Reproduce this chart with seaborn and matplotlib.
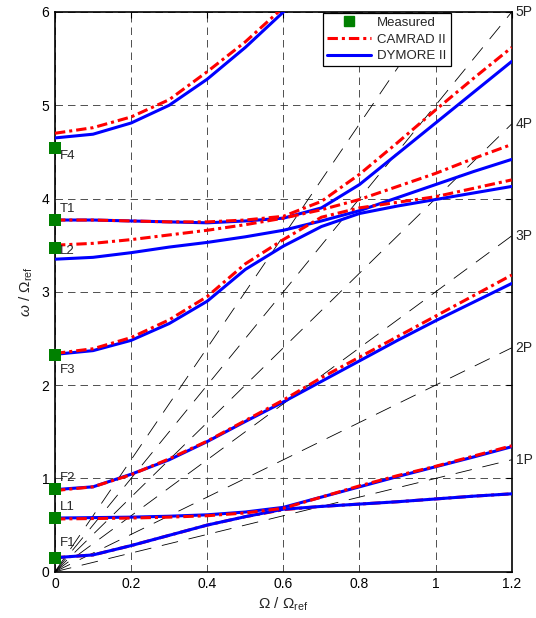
import matplotlib
matplotlib.use("Agg")
import matplotlib.pyplot as plt
from matplotlib.lines import Line2D
import numpy as np
import pandas as pd
import seaborn as sns

# Rotor speed samples (non-dimensional)
omega = [0.0, 0.1, 0.2, 0.3, 0.4, 0.5, 0.6, 0.7, 0.8, 0.9, 1.0, 1.1, 1.2]

# DYMORE II natural frequencies
dym_f1 = [0.15, 0.18, 0.28, 0.39, 0.50, 0.59, 0.67, 0.70, 0.725, 0.75, 0.78, 0.81, 0.835]
dym_l1 = [0.575, 0.58, 0.585, 0.595, 0.61, 0.64, 0.69, 0.80, 0.91, 1.02, 1.125, 1.23, 1.34]
dym_f2 = [0.88, 0.91, 1.045, 1.20, 1.395, 1.61, 1.82, 2.04, 2.26, 2.48, 2.69, 2.89, 3.09]
dym_f3 = [2.33, 2.37, 2.48, 2.66, 2.90, 3.24, 3.49, 3.70, 3.84, 3.92, 3.99, 4.06, 4.13]
dym_l2 = [3.35, 3.37, 3.42, 3.48, 3.53, 3.59, 3.66, 3.76, 3.87, 4.01, 4.15, 4.29, 4.42]
dym_t1 = [3.77, 3.77, 3.76, 3.75, 3.74, 3.76, 3.79, 3.90, 4.15, 4.48, 4.81, 5.14, 5.47]
dym_f4 = [4.65, 4.69, 4.81, 5.00, 5.28, 5.62, 6.00, 6.40]

# CAMRAD II natural frequencies
cam_f1 = [0.15, 0.18, 0.28, 0.39, 0.50, 0.59, 0.665, 0.70, 0.725, 0.75, 0.78, 0.81, 0.835]
cam_l1 = [0.565, 0.57, 0.575, 0.585, 0.60, 0.63, 0.68, 0.80, 0.92, 1.03, 1.13, 1.24, 1.35]
cam_f2 = [0.87, 0.91, 1.04, 1.21, 1.40, 1.62, 1.84, 2.08, 2.30, 2.52, 2.74, 2.96, 3.18]
cam_f3 = [2.34, 2.39, 2.51, 2.70, 2.95, 3.30, 3.56, 3.80, 3.90, 3.96, 4.02, 4.11, 4.20]
cam_l2 = [3.50, 3.52, 3.56, 3.61, 3.66, 3.72, 3.79, 3.88, 3.99, 4.13, 4.27, 4.43, 4.58]
cam_t1 = [3.77, 3.77, 3.76, 3.75, 3.75, 3.77, 3.81, 3.97, 4.26, 4.60, 4.95, 5.29, 5.62]
cam_f4 = [4.70, 4.76, 4.875, 5.06, 5.36, 5.68, 6.05, 6.45]

# Measured non-rotating frequencies
mode_names = ["F1", "L1", "F2", "F3", "L2", "T1", "F4"]
measured = [0.15, 0.573, 0.884, 2.325, 3.47, 3.77, 4.54]
label_y = [0.31, 0.69, 1.005, 2.16, 3.44, 3.89, 4.46]

# Per-rev excitation harmonics
harmonics = [1, 2, 3, 4, 5, 6]
harmonic_labels = ["1P", "2P", "3P", "4P", "5P"]

sns.set_theme(style="white")
plt.rcParams["font.family"] = ["Liberation Sans", "DejaVu Sans"]
plt.rcParams["mathtext.fontset"] = "custom"
plt.rcParams["mathtext.rm"] = "Liberation Sans"
plt.rcParams["mathtext.it"] = "Liberation Sans:italic"

fig = plt.figure(figsize=(5.36, 6.18), dpi=100)
ax = fig.add_axes([0.1026, 0.0749, 0.8521, 0.9057])

blue = "#0000ff"
red = "#ff0000"
green = "#008000"
dashdot = (0, (3.4, 1.3, 1.0, 1.3))

# Per-rev lines through the origin
x_ends = [omega[0], omega[-1]]
for n in harmonics:
    sns.lineplot(x=x_ends, y=[n * v for v in x_ends], ax=ax, color="black",
                 lw=0.6, linestyle=(0, (20, 13)), zorder=2)

dym_curves = [dym_f1, dym_l1, dym_f2, dym_f3, dym_l2, dym_t1, dym_f4]
cam_curves = [cam_f1, cam_l1, cam_f2, cam_f3, cam_l2, cam_t1, cam_f4]

for c in dym_curves:
    sns.lineplot(x=omega[:len(c)], y=c, ax=ax, color=blue, lw=2.2, zorder=4,
                 sort=False)
for i, c in enumerate(cam_curves):
    sns.lineplot(x=omega[:len(c)], y=c, ax=ax, color=red, lw=2.2,
                 linestyle=dashdot, zorder=3 if i == 0 else 5, sort=False)

meas_df = pd.DataFrame({"omega": [0.0] * len(measured), "freq": measured})
sns.scatterplot(data=meas_df, x="omega", y="freq", ax=ax, marker="s", s=64,
                color=green, edgecolor=green, linewidth=0, zorder=6, clip_on=False)

for name, yv in zip(mode_names, label_y):
    ax.text(0.013, yv, name, fontsize=9.5, va="center", ha="left", zorder=7)

for n, lab in zip(harmonics, harmonic_labels):
    ax.text(omega[-1] + 0.01, n * omega[-1], lab, fontsize=10, va="center",
            ha="left", clip_on=False)

ax.set_xlim(0, 1.2)
ax.set_ylim(0, 6)
ax.set_xticks([0, 0.2, 0.4, 0.6, 0.8, 1.0, 1.2])
ax.set_xticklabels(["0", "0.2", "0.4", "0.6", "0.8", "1", "1.2"])
ax.set_yticks([0, 1, 2, 3, 4, 5, 6])
ax.set_yticklabels(["0", "1", "2", "3", "4", "5", "6"])
ax.tick_params(direction="in", length=4, width=0.8, labelsize=10, colors="black",
               top=True, right=True, pad=4)
ax.grid(True, color="#333333", lw=0.6, linestyle=(0, (9, 6)))
ax.set_axisbelow(True)
for sp in ax.spines.values():
    sp.set_color("black")
    sp.set_linewidth(1.2)

ax.set_xlabel(r"$\Omega$ / $\Omega_{\mathrm{ref}}$", fontsize=11, labelpad=3)
ax.set_ylabel(r"$\omega$ / $\Omega_{\mathrm{ref}}$", fontsize=11, labelpad=5)

handles = [
    Line2D([], [], ls="none", marker="s", markersize=7, color=green),
    Line2D([], [], color=red, lw=2.2, linestyle=dashdot),
    Line2D([], [], color=blue, lw=2.2),
]
leg = ax.legend(handles, ["Measured", "CAMRAD II", "DYMORE II"], loc="upper left",
                bbox_to_anchor=(0.587, 0.999), fontsize=9.5, frameon=True,
                fancybox=False, framealpha=1, edgecolor="black",
                handlelength=3.3, borderpad=0.3, labelspacing=0.35,
                handletextpad=0.5, borderaxespad=0)
leg.get_frame().set_linewidth(0.9)
leg.set_zorder(10)

fig.savefig("out.png", dpi=100)
